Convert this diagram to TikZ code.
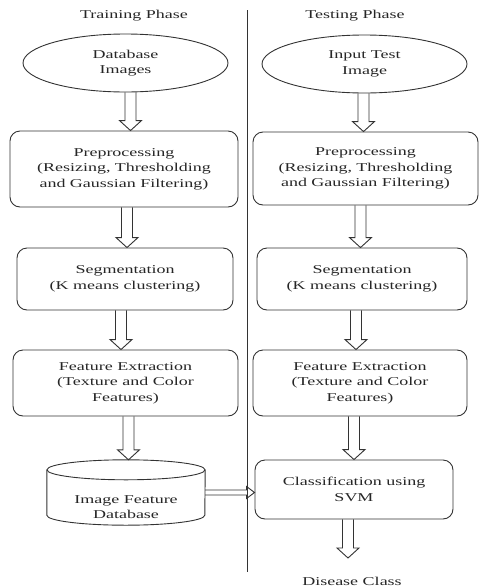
\documentclass[tikz,border=0pt]{standalone}
\usepackage{fontspec}
\setmainfont[FakeStretch=1.5]{Liberation Serif}
\usetikzlibrary{shapes.geometric,calc}
\tikzset{
  lbl/.style={font=\fontsize{12}{15.5}\selectfont, align=center, text=black!85, inner sep=0pt},
  procbox/.style={lbl, draw=black!80, rounded corners=10pt, line width=0.9pt},
  ovalbox/.style={lbl, draw=black!80, ellipse, line width=0.9pt},
  blk/.style={draw=black!80, line width=0.9pt, line join=miter},
  rule/.style={draw=black!80, line width=0.9pt},
}
\newcommand\blkdown[3][0pt]{%
  \draw[blk] let \p1=($(#2)+(#1,0)$), \p2=(#3) in
    (\x1-5.5pt,\y1) -- (\x1-5.5pt,\y2+10pt) -- (\x1-11pt,\y2+10pt) -- (\x1,\y2)
    -- (\x1+11pt,\y2+10pt) -- (\x1+5.5pt,\y2+10pt) -- (\x1+5.5pt,\y1);}
\begin{document}
\begin{tikzpicture}[x=1pt,y=1pt]
\useasboundingbox (0,0) rectangle (480,-587);
% titles
\node[lbl] (ttrain) at (134,-16) {Training Phase};
\node[lbl] (ttest) at (355,-16) {Testing Phase};
% divider
\coordinate (dtop) at (247,-10);
\coordinate (dbot) at (247,-572);
\draw[rule] (dtop) -- (dbot);
% left column
\node[ovalbox, minimum width=205pt, minimum height=58pt] (e1) at (125.5,-63) {Database\\Images};
\node[procbox, minimum width=228pt, minimum height=76pt] (p1) at (124,-169) {Preprocessing\\(Resizing, Thresholding\\and Gaussian Filtering)};
\node[procbox, minimum width=216pt, minimum height=62pt] (s1) at (125,-279) {Segmentation\\(K means clustering)};
\node[procbox, minimum width=225pt, minimum height=66pt] (f1) at (125.5,-383) {Feature Extraction\\(Texture and Color\\Features)};
\node[lbl, minimum width=158pt, minimum height=65pt] (db) at (126,-492.5) {};
\draw[rule] let \p1=(db.north west), \p2=(db.south east) in
  (\x1,\y1-10pt) -- (\x1,\y2+10pt) arc[start angle=180,end angle=360,x radius=79pt,y radius=10pt] -- (\x2,\y1-10pt);
\draw[rule] ($(db.north)+(0,-10)$) ellipse[x radius=79pt, y radius=10pt];
\node[lbl] (dbtext) at (126,-507) {Image Feature\\Database};
% right column
\node[ovalbox, minimum width=205pt, minimum height=58pt] (e2) at (364.5,-64) {Input Test\\Image};
\node[procbox, minimum width=225pt, minimum height=73pt] (p2) at (365.5,-168.5) {Preprocessing\\(Resizing, Thresholding\\and Gaussian Filtering)};
\node[procbox, minimum width=210pt, minimum height=62pt] (s2) at (362,-279) {Segmentation\\(K means clustering)};
\node[procbox, minimum width=214pt, minimum height=66pt] (f2) at (360,-383) {Feature Extraction\\(Texture and Color\\Features)};
\node[procbox, minimum width=198pt, minimum height=59pt] (c2) at (354,-489.5) {Classification using\\SVM};
\node[lbl] (dc) at (352,-581) {Disease Class};
\coordinate (dctip) at (348,-558);
% arrows left
\blkdown[5pt]{e1.south}{p1.north}
\blkdown[3pt]{p1.south}{s1.north}
\blkdown[-4pt]{s1.south}{f1.north}
\blkdown[3pt]{f1.south}{db.north}
% arrows right
\blkdown[-1pt]{e2.south}{p2.north}
\blkdown[-5pt]{p2.south}{s2.north}
\blkdown[-6pt]{s2.south}{f2.north}
\blkdown[-6pt]{f2.south}{c2.north}
\blkdown[-6pt]{c2.south}{dctip}
% horizontal arrow
\draw[blk] let \p1=(db.east), \p2=(c2.west) in
  (\x1,\y1+2.5pt) -- (\x2-8pt,\y1+2.5pt) -- (\x2-8pt,\y1+6pt) -- (\x2,\y1)
  -- (\x2-8pt,\y1-6pt) -- (\x2-8pt,\y1-2.5pt) -- (\x1,\y1-2.5pt);
\end{tikzpicture}
\end{document}
